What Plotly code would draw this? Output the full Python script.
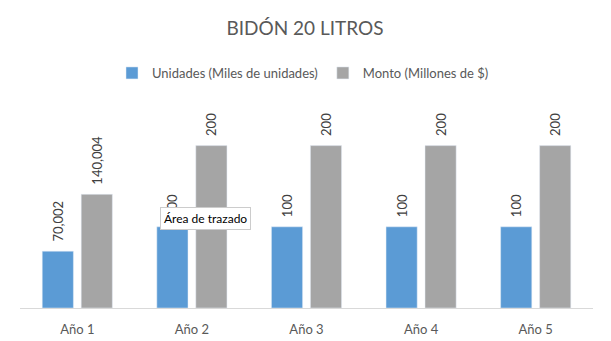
import plotly.graph_objects as go

categories = ["Año 1", "Año 2", "Año 3", "Año 4", "Año 5"]
unidades = [70.002, 100, 100, 100, 100]
monto = [140.004, 200, 200, 200, 200]
series_names = ["Unidades (Miles de unidades)", "Monto (Millones de $)"]
title_text = "BIDÓN 20 LITROS"
tooltip_text = "Área de trazado"

def fmt(v):
    # leading no-break spaces give the label its gap above the bar
    return "\u00a0\u00a0" + f"{v:g}".replace(".", ",")

W, H = 611, 341
ml, mr, mt, mb = 20, 18, 105, 33
PW, PH = W - ml - mr, H - mt - mb

def px_x(x):
    return (x - ml) / PW

def px_y(y):
    return (H - mb - y) / PH

FONT = "Lato, Open Sans, sans-serif"

fig = go.Figure()
for name, vals, col in [(series_names[0], unidades, "#5B9BD5"),
                        (series_names[1], monto, "#A5A5A5")]:
    fig.add_trace(go.Bar(
        x=categories, y=vals, name=name, marker_color=col,
        text=[fmt(v) for v in vals], textposition="outside", textangle=-90,
        constraintext="none",
        textfont=dict(family=FONT, size=13, color="#404040"),
        cliponaxis=False, hoverinfo="skip",
    ))

fig.update_layout(
    width=W, height=H,
    margin=dict(l=ml, r=mr, t=mt, b=mb, autoexpand=False),
    paper_bgcolor="white", plot_bgcolor="white",
    barmode="group", bargap=0.32, bargroupgap=0.2,
    uniformtext=dict(mode=False),
    title=dict(text=title_text, x=305 / W, xanchor="center", y=1 - 28 / H, yanchor="middle",
               font=dict(family=FONT, size=19, color="#595959")),
    legend=dict(orientation="h", x=px_x(303), xanchor="center", y=px_y(73), yanchor="middle",
                font=dict(family=FONT, size=13, color="#595959"),
                bgcolor="rgba(0,0,0,0)", traceorder="normal"),
    xaxis=dict(showline=True, linecolor="#D9D9D9", linewidth=1, ticks="",
               ticklabelstandoff=9, automargin=False,
               tickfont=dict(family=FONT, size=13, color="#595959"),
               showgrid=False, fixedrange=True),
    yaxis=dict(range=[0, 250], visible=False, showgrid=False, fixedrange=True,
               automargin=False),
    showlegend=True,
)

fig.add_annotation(
    text=tooltip_text, xref="paper", yref="paper",
    x=px_x(205.5), y=px_y(218),
    xanchor="center", yanchor="middle", showarrow=False,
    font=dict(family=FONT, size=12, color="#000000"),
    bgcolor="#FFFFFF", bordercolor="#CCCCCC", borderwidth=1, borderpad=3,
)

fig.write_html("out.html", config={"displayModeBar": False})
